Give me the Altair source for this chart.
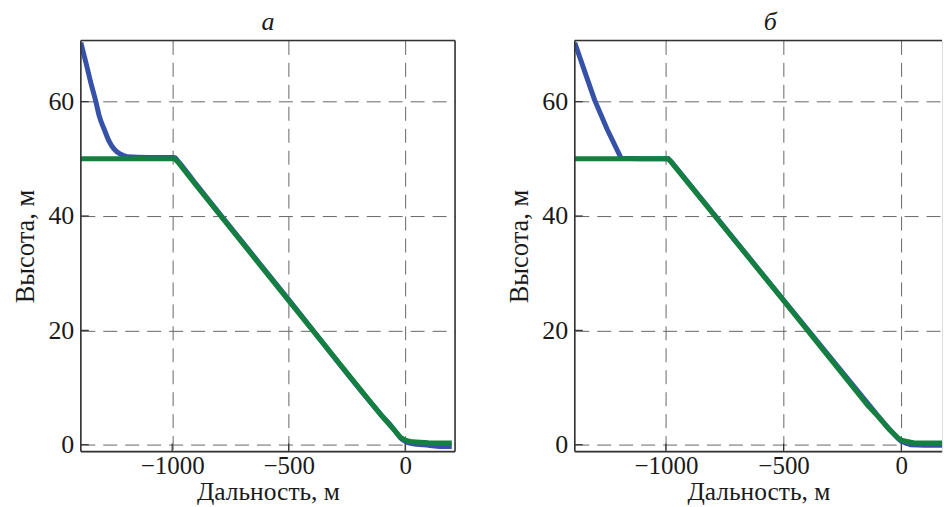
import altair as alt
import pandas as pd

# Panel "а": altitude profile vs. range
a_blue_x = [-1392, -1370, -1349, -1328, -1313, -1292, -1271, -1249, -1221, -1192, -1100,
            -990, -975, -900, -500, -100, -50, -20, 0, 30, 100, 150, 200]
a_blue_y = [70.3, 66.8, 63.3, 60.1, 57.5, 55.2, 53.1, 51.7, 50.8, 50.35, 50.25,
            50.25, 49.6, 45.7, 25.4, 5.1, 2.8, 1.2, 0.6, 0.2, -0.1, -0.3, -0.3]
a_green_x = [-1392, -990, -975, -900, -500, -100, -50, -20, 0, 30, 100, 200]
a_green_y = [50.0, 50.0, 49.4, 45.5, 25.2, 5.0, 2.7, 1.3, 0.8, 0.5, 0.35, 0.3]

# Panel "б"
b_blue_x = [-1387, -1345, -1303, -1250, -1190, -1100, -990, -975, -500, -100, -50, -14, 0, 40, 100, 200]
b_blue_y = [70.3, 65.3, 60.3, 55.2, 50.1, 50.0, 50.0, 49.4, 25.3, 5.1, 2.7, 1.1, 0.6, 0.0, -0.1, -0.1]
b_green_x = [-1387, -990, -975, -500, -141, -100, -50, -14, 0, 20, 56, 200]
b_green_y = [50.0, 50.0, 49.3, 25.2, 6.8, 5.0, 2.6, 1.2, 0.8, 0.6, 0.3, 0.3]

x_ticks = [-1000, -500, 0]
y_ticks = [0, 20, 40, 60]

BLUE = "#3652a8"
GREEN = "#148040"
FRAME = "#333333"
TEXT = "#1a1a1a"
GRID = "#666666"
FONT = "Liberation Serif"

H = 412
Y_DOMAIN = [-1.2, 70.7]


def panel(bx, by, gx, gy, x_domain, width, title, right_edge, blue_curve, title_dx=0):
    xs = alt.Scale(domain=x_domain, nice=False, zero=False)
    ys = alt.Scale(domain=Y_DOMAIN, nice=False, zero=False)
    x_axis = alt.Axis(values=x_ticks, format="d", grid=True, gridDash=[14, 8],
                      gridColor=GRID, gridWidth=1, ticks=False, domain=False,
                      labelFont=FONT, labelFontSize=25, labelColor=TEXT, labelPadding=2,
                      title="Дальность, м", titleFont=FONT, titleFontSize=25.5,
                      titleFontWeight="normal", titleColor=TEXT, titlePadding=1)
    y_axis = alt.Axis(values=y_ticks, format="d", grid=True, gridDash=[14, 8],
                      gridColor=GRID, gridWidth=1, ticks=False, domain=False,
                      labelFont=FONT, labelFontSize=26, labelColor=TEXT, labelPadding=7,
                      title="Высота, м", titleFont=FONT, titleFontSize=26.5,
                      titleFontWeight="normal", titleColor=TEXT, titlePadding=8)

    blue = alt.Chart(pd.DataFrame({"x": bx, "y": by})).mark_line(
        color=BLUE, strokeWidth=5, clip=True, interpolate=blue_curve
    ).encode(x=alt.X("x:Q", scale=xs, axis=x_axis), y=alt.Y("y:Q", scale=ys, axis=y_axis))
    green = alt.Chart(pd.DataFrame({"x": gx, "y": gy})).mark_line(
        color=GREEN, strokeWidth=5, clip=True
    ).encode(x=alt.X("x:Q", scale=xs, axis=x_axis), y=alt.Y("y:Q", scale=ys, axis=y_axis))

    one = pd.DataFrame({"k": [0]})
    frame = [
        alt.Chart(one).mark_rule(color=FRAME, strokeWidth=1.6).encode(
            x=alt.value(0), x2=alt.value(width), y=alt.value(0)),
        alt.Chart(one).mark_rule(color=FRAME, strokeWidth=1.6).encode(
            x=alt.value(0), x2=alt.value(width), y=alt.value(H)),
        alt.Chart(one).mark_rule(color=FRAME, strokeWidth=1.6).encode(
            x=alt.value(0), y=alt.value(0), y2=alt.value(H)),
    ]
    if right_edge:
        frame.append(alt.Chart(one).mark_rule(color=FRAME, strokeWidth=1.6).encode(
            x=alt.value(width), y=alt.value(0), y2=alt.value(H)))

    # short inward tick marks on the left and bottom edges
    yt = alt.Chart(pd.DataFrame({"y": y_ticks})).mark_rule(color=FRAME, strokeWidth=1.2).encode(
        y=alt.Y("y:Q", scale=ys, axis=y_axis), x=alt.value(0), x2=alt.value(8))
    xt = alt.Chart(pd.DataFrame({"x": x_ticks})).mark_rule(color=FRAME, strokeWidth=1.2).encode(
        x=alt.X("x:Q", scale=xs, axis=x_axis), y=alt.value(H), y2=alt.value(H - 8))

    return alt.layer(blue, green, yt, xt, *frame).properties(
        width=width, height=H,
        title=alt.TitleParams(title, font=FONT, fontStyle="italic", fontSize=26,
                              fontWeight="normal", color=TEXT, offset=5,
                              anchor="middle", dx=title_dx),
    )


left = panel(a_blue_x, a_blue_y, a_green_x, a_green_y, [-1392, 214], 375, "а", True, "monotone")
right = panel(b_blue_x, b_blue_y, b_green_x, b_green_y, [-1387, 173], 368, "б", False, "linear",
              title_dx=12)

chart = alt.hconcat(left, right, spacing=120, bounds="flush").properties(
    padding={"left": 12, "top": 7, "right": 0, "bottom": 0}
).configure_view(stroke=None).configure(background="white")

chart.save("out.html", embed_options={"renderer": "svg", "actions": False})
